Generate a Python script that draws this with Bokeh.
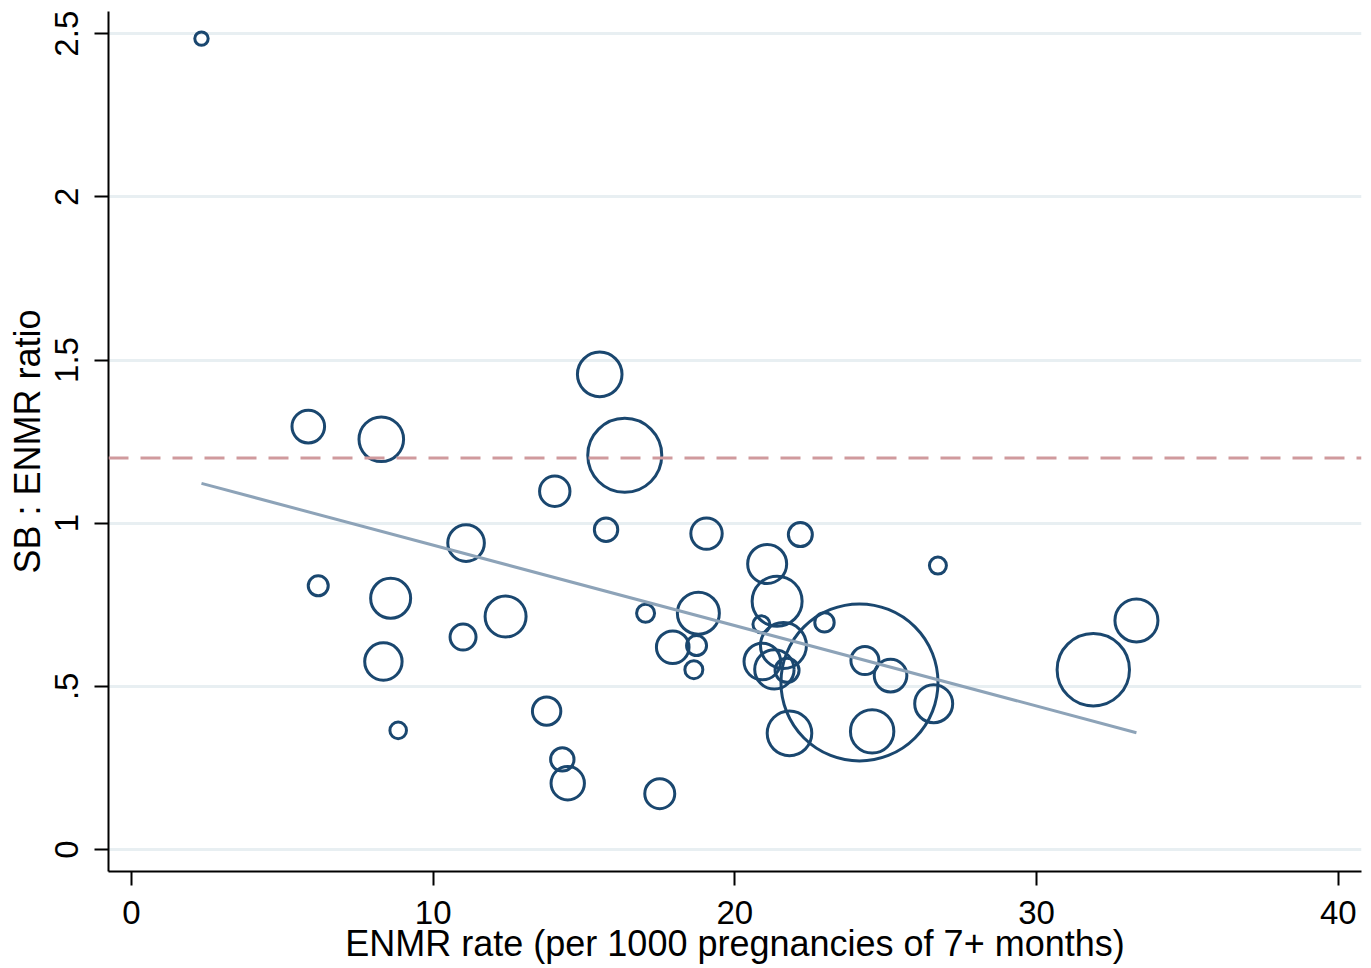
from bokeh.plotting import figure
from bokeh.models import Range1d, FixedTicker, Span, ColumnDataSource
from bokeh.embed import file_html
from bokeh.resources import INLINE
import numpy as np

# ---- data ----
enmr_rate = [2.32, 5.86, 8.28, 6.19, 8.59, 8.35, 8.84, 11.09, 10.99, 12.40,
             13.76, 14.03, 14.28, 14.46, 15.52, 16.35, 15.73, 17.04, 17.51, 17.94,
             18.79, 18.73, 18.64, 19.06, 21.07, 21.40, 20.88, 22.17, 22.97, 21.61,
             20.91, 21.31, 21.73, 21.81, 24.13, 24.31, 25.16, 24.55, 26.59, 26.73,
             31.88, 33.31]
sb_enmr_ratio = [2.485, 1.296, 1.257, 0.808, 0.770, 0.576, 0.365, 0.939, 0.651, 0.714,
                 0.424, 1.098, 0.276, 0.203, 1.456, 1.208, 0.980, 0.724, 0.171, 0.620,
                 0.724, 0.625, 0.551, 0.968, 0.875, 0.761, 0.690, 0.965, 0.696, 0.625,
                 0.576, 0.552, 0.549, 0.356, 0.512, 0.579, 0.533, 0.362, 0.447, 0.870,
                 0.551, 0.702]
weight = [1.00, 5.92, 11.08, 2.23, 8.91, 7.79, 1.53, 7.46, 3.76, 9.36,
          4.49, 5.15, 3.05, 6.21, 11.08, 30.5, 3.05, 1.80, 5.01, 5.92,
          9.82, 2.23, 1.80, 5.49, 8.47, 13.92, 1.61, 3.21, 2.10, 11.78,
          7.46, 8.65, 3.21, 11.08, 137.3, 4.37, 5.92, 10.49, 8.04, 1.61,
          29.19, 10.30]
fit_x = [2.32, 33.31]
fit_y = [1.122, 0.358]
reference_ratio = 1.2
x_ticks = [0, 10, 20, 30, 40]
y_ticks = [0, 0.5, 1, 1.5, 2, 2.5]
y_tick_labels = {0: "0", 0.5: ".5", 1: "1", 1.5: "1.5", 2: "2", 2.5: "2.5"}

FONT = "Liberation Sans"
NAVY = "#1a476f"

p = figure(width=1371, height=968, output_backend="svg", toolbar_location=None,
           x_range=Range1d(-0.762, 40.77), y_range=Range1d(-0.0674, 2.568),
           min_border_left=108, min_border_right=10, min_border_top=11,
           min_border_bottom=97)
p.background_fill_color = "white"
p.border_fill_color = "white"
p.outline_line_color = None

# grid
p.xgrid.visible = False
p.ygrid.ticker = FixedTicker(ticks=y_ticks)
p.ygrid.grid_line_color = "#e8eff2"
p.ygrid.grid_line_width = 3

# axes
for ax in (p.xaxis[0], p.yaxis[0]):
    ax.axis_line_width = 2
    ax.axis_line_color = "black"
    ax.major_tick_line_width = 2
    ax.major_tick_line_color = "black"
    ax.major_tick_out = 14
    ax.major_tick_in = 0
    ax.minor_tick_out = 0
    ax.minor_tick_in = 0
    ax.major_label_text_font = FONT
    ax.major_label_text_font_size = "33px"
    ax.major_label_text_color = "black"
    ax.axis_label_text_font = FONT
    ax.axis_label_text_font_size = "36px"
    ax.axis_label_text_font_style = "normal"
    ax.axis_label_text_color = "black"

p.xaxis.ticker = FixedTicker(ticks=x_ticks)
p.yaxis.ticker = FixedTicker(ticks=y_ticks)
p.yaxis.major_label_overrides = y_tick_labels
p.yaxis.major_label_orientation = "vertical"
p.xaxis.axis_label = "ENMR rate (per 1000 pregnancies of 7+ months)"
p.yaxis.axis_label = "SB : ENMR ratio"
p.xaxis.major_label_standoff = 15
p.xaxis.axis_label_standoff = -4
p.yaxis.major_label_standoff = 16
p.yaxis.axis_label_standoff = 5

# reference line
p.add_layout(Span(location=reference_ratio, dimension="width",
                  line_color="#d09a9d", line_width=3, line_dash="20 12"))

# bubbles (area proportional to weight)
src = ColumnDataSource(dict(x=enmr_rate, y=sb_enmr_ratio,
                            s=[13.4 * np.sqrt(w) for w in weight]))
p.scatter("x", "y", size="s", source=src, marker="circle",
          fill_color=None, line_color=NAVY, line_width=3)

# fitted line
p.line(fit_x, fit_y, line_color="#8da3b8", line_width=3)

open("out.html", "w").write(file_html(p, INLINE))
